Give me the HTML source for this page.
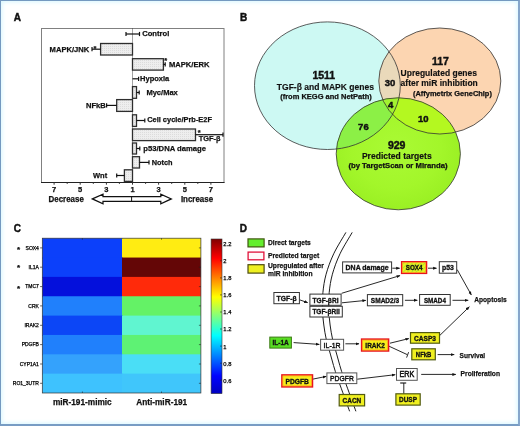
<!DOCTYPE html>
<html lang="en">
<head>
<meta charset="utf-8">
<title>Figure</title>
<style>
html,body{margin:0;padding:0;background:#fff;}
body{width:520px;height:426px;overflow:hidden;position:relative;font-family:"Liberation Sans",sans-serif;}
#frame{position:absolute;left:0;top:0;width:517px;height:423px;border:1px solid #7499c0;border-right:2px solid #86a6cb;border-bottom:2px solid #789cc4;box-shadow:inset 0 0 4px 1px #d6f6ff;background:#fff;}
svg{position:absolute;left:0;top:0;}
svg text{font-family:"Liberation Sans",sans-serif;}
</style>
</head>
<body>
<div id="frame"></div>
<svg width="520" height="426" viewBox="0 0 520 426">
<defs>
<pattern id="dots" width="2" height="2" patternUnits="userSpaceOnUse"><rect width="2" height="2" fill="#eeeeee"/><rect width="1" height="1" fill="#dcdcdc"/></pattern>
<radialGradient id="gg" cx="0.48" cy="0.45" r="0.6"><stop offset="0" stop-color="#aafa34"/><stop offset="0.6" stop-color="#a3f62a"/><stop offset="1" stop-color="#98ee22"/></radialGradient>
<linearGradient id="jet" x1="0" y1="0" x2="0" y2="1">
<stop offset="0" stop-color="#800000"/>
<stop offset="0.125" stop-color="#ff0000"/>
<stop offset="0.375" stop-color="#ffff00"/>
<stop offset="0.625" stop-color="#00ffff"/>
<stop offset="0.885" stop-color="#0004ff"/>
<stop offset="1" stop-color="#0000c0"/>
</linearGradient>
<pattern id="hatch" width="3" height="3" patternUnits="userSpaceOnUse" patternTransform="rotate(45)"><rect width="3" height="3" fill="#f0f020"/><rect width="1.1" height="3" fill="#b2e62a"/></pattern>
<marker id="ah" markerWidth="5" markerHeight="5" refX="3.4" refY="2" orient="auto" markerUnits="userSpaceOnUse"><path d="M0,0.5 L3.8,2 L0,3.5 Z" fill="#111"/></marker>
<clipPath id="cB"><ellipse cx="327.4" cy="85.7" rx="72.9" ry="63.8"/></clipPath>
<clipPath id="cO"><ellipse cx="439.8" cy="81" rx="61" ry="53"/></clipPath>
<clipPath id="cG"><ellipse cx="398.3" cy="153.8" rx="62.1" ry="56"/></clipPath>
</defs>

<text x="13.7" y="20.8" font-size="10" font-weight="bold" fill="#111" stroke="#111" stroke-width="0.45">A</text>
<text x="239.9" y="20.8" font-size="10" font-weight="bold" fill="#111" stroke="#111" stroke-width="0.45">B</text>
<text x="13.7" y="232.3" font-size="10" font-weight="bold" fill="#111" stroke="#111" stroke-width="0.45">C</text>
<text x="239.7" y="232.2" font-size="10" font-weight="bold" fill="#111" stroke="#111" stroke-width="0.45">D</text>
<g id="panelA">
<rect x="41.5" y="28.5" width="182.5" height="154" fill="#fff" stroke="#808080" stroke-width="1"/>
<line x1="41" y1="182.5" x2="224.5" y2="182.5" stroke="#222" stroke-width="1"/>
<line x1="132.5" y1="28.5" x2="132.5" y2="182.5" stroke="#444" stroke-width="1" stroke-dasharray="1,1"/>
<rect x="100.6" y="43.5" width="31.9" height="11.5" fill="url(#dots)" stroke="#2e2e2e" stroke-width="1.3"/>
<rect x="132.5" y="58.7" width="30.9" height="11.4" fill="url(#dots)" stroke="#2e2e2e" stroke-width="1.3"/>
<rect x="132.5" y="86.6" width="4.0" height="11.7" fill="url(#dots)" stroke="#2e2e2e" stroke-width="1.3"/>
<rect x="116.7" y="99.6" width="15.8" height="11.8" fill="url(#dots)" stroke="#2e2e2e" stroke-width="1.3"/>
<rect x="132.5" y="114.8" width="4.0" height="11.6" fill="url(#dots)" stroke="#2e2e2e" stroke-width="1.3"/>
<rect x="132.5" y="129.0" width="63.0" height="11.6" fill="url(#dots)" stroke="#2e2e2e" stroke-width="1.3"/>
<rect x="132.5" y="143.0" width="4.0" height="11.0" fill="url(#dots)" stroke="#2e2e2e" stroke-width="1.3"/>
<rect x="132.5" y="156.7" width="7.0" height="11.3" fill="url(#dots)" stroke="#2e2e2e" stroke-width="1.3"/>
<rect x="124.4" y="169.8" width="8.1" height="11.6" fill="url(#dots)" stroke="#2e2e2e" stroke-width="1.3"/>
<line x1="126" y1="34" x2="139.5" y2="34" stroke="#111" stroke-width="1.2"/>
<line x1="126" y1="31.9" x2="126" y2="36.1" stroke="#111" stroke-width="1.2"/>
<line x1="139.5" y1="31.9" x2="139.5" y2="36.1" stroke="#111" stroke-width="1.2"/>
<line x1="92" y1="49.2" x2="100.6" y2="49.2" stroke="#111" stroke-width="1.2"/>
<line x1="92" y1="47.1" x2="92" y2="51.300000000000004" stroke="#111" stroke-width="1.2"/>
<line x1="163.4" y1="64.4" x2="165.2" y2="64.4" stroke="#111" stroke-width="1.2"/>
<line x1="165.2" y1="62.300000000000004" x2="165.2" y2="66.5" stroke="#111" stroke-width="1.2"/>
<line x1="132.5" y1="78.8" x2="138.6" y2="78.8" stroke="#111" stroke-width="1.2"/>
<line x1="138.6" y1="76.7" x2="138.6" y2="80.89999999999999" stroke="#111" stroke-width="1.2"/>
<line x1="136.5" y1="92.5" x2="139.2" y2="92.5" stroke="#111" stroke-width="1.2"/>
<line x1="139.2" y1="90.4" x2="139.2" y2="94.6" stroke="#111" stroke-width="1.2"/>
<line x1="106.6" y1="105.4" x2="116.7" y2="105.4" stroke="#111" stroke-width="1.2"/>
<line x1="106.6" y1="103.30000000000001" x2="106.6" y2="107.5" stroke="#111" stroke-width="1.2"/>
<line x1="136.5" y1="120.5" x2="144.8" y2="120.5" stroke="#111" stroke-width="1.2"/>
<line x1="144.8" y1="118.4" x2="144.8" y2="122.6" stroke="#111" stroke-width="1.2"/>
<line x1="195.5" y1="134.7" x2="223" y2="134.7" stroke="#111" stroke-width="1.2"/>
<line x1="223" y1="132.6" x2="223" y2="136.79999999999998" stroke="#111" stroke-width="1.2"/>
<line x1="136.5" y1="148.5" x2="139.8" y2="148.5" stroke="#111" stroke-width="1.2"/>
<line x1="139.8" y1="146.4" x2="139.8" y2="150.6" stroke="#111" stroke-width="1.2"/>
<line x1="139.5" y1="162.4" x2="149" y2="162.4" stroke="#111" stroke-width="1.2"/>
<line x1="149" y1="160.3" x2="149" y2="164.5" stroke="#111" stroke-width="1.2"/>
<line x1="116.7" y1="175.5" x2="124.4" y2="175.5" stroke="#111" stroke-width="1.2"/>
<line x1="116.7" y1="173.4" x2="116.7" y2="177.6" stroke="#111" stroke-width="1.2"/>
<text x="142.2" y="35.9" font-size="8" font-weight="bold" textLength="27.1" lengthAdjust="spacingAndGlyphs" fill="#111" stroke="#111" stroke-width="0.25">Control</text>
<text x="49.6" y="51.5" font-size="8" font-weight="bold" textLength="39.6" lengthAdjust="spacingAndGlyphs" fill="#111" stroke="#111" stroke-width="0.25">MAPK/JNK</text>
<text x="169" y="67.4" font-size="8" font-weight="bold" textLength="40.5" lengthAdjust="spacingAndGlyphs" fill="#111" stroke="#111" stroke-width="0.25">MAPK/ERK</text>
<text x="140.1" y="81.3" font-size="8" font-weight="bold" textLength="29.2" lengthAdjust="spacingAndGlyphs" fill="#111" stroke="#111" stroke-width="0.25">Hypoxia</text>
<text x="146.4" y="95.0" font-size="8" font-weight="bold" textLength="31.4" lengthAdjust="spacingAndGlyphs" fill="#111" stroke="#111" stroke-width="0.25">Myc/Max</text>
<text x="86" y="107.6" font-size="8" font-weight="bold" textLength="19.7" lengthAdjust="spacingAndGlyphs" fill="#111" stroke="#111" stroke-width="0.25">NFkB</text>
<text x="147.2" y="121.9" font-size="8" font-weight="bold" textLength="64.8" lengthAdjust="spacingAndGlyphs" fill="#111" stroke="#111" stroke-width="0.25">Cell cycle/Prb-E2F</text>
<text x="198.7" y="140.8" font-size="8" font-weight="bold" textLength="21.8" lengthAdjust="spacingAndGlyphs" fill="#111" stroke="#111" stroke-width="0.25">TGF-β</text>
<text x="143.3" y="151.3" font-size="8" font-weight="bold" textLength="62.7" lengthAdjust="spacingAndGlyphs" fill="#111" stroke="#111" stroke-width="0.25">p53/DNA damage</text>
<text x="151.7" y="165.2" font-size="8" font-weight="bold" textLength="20.8" lengthAdjust="spacingAndGlyphs" fill="#111" stroke="#111" stroke-width="0.25">Notch</text>
<text x="93" y="177.6" font-size="8" font-weight="bold" textLength="14.2" lengthAdjust="spacingAndGlyphs" fill="#111" stroke="#111" stroke-width="0.25">Wnt</text>
<text x="94.9" y="51.2" font-size="7.5" font-weight="bold" text-anchor="middle" fill="#111" stroke="#111" stroke-width="0.25">*</text>
<text x="165.8" y="63.2" font-size="7.5" font-weight="bold" text-anchor="middle" fill="#111" stroke="#111" stroke-width="0.25">*</text>
<text x="199.3" y="135.4" font-size="7.5" font-weight="bold" text-anchor="middle" fill="#111" stroke="#111" stroke-width="0.25">*</text>
<line x1="54.1" y1="182.5" x2="54.1" y2="184.7" stroke="#333" stroke-width="1"/>
<text x="54.1" y="192.2" font-size="7.5" font-weight="bold" text-anchor="middle" fill="#111" stroke="#111" stroke-width="0.25">7</text>
<line x1="67.2" y1="182.5" x2="67.2" y2="183.9" stroke="#333" stroke-width="1"/>
<line x1="80.2" y1="182.5" x2="80.2" y2="184.7" stroke="#333" stroke-width="1"/>
<text x="80.2" y="192.2" font-size="7.5" font-weight="bold" text-anchor="middle" fill="#111" stroke="#111" stroke-width="0.25">5</text>
<line x1="93.3" y1="182.5" x2="93.3" y2="183.9" stroke="#333" stroke-width="1"/>
<line x1="106.4" y1="182.5" x2="106.4" y2="184.7" stroke="#333" stroke-width="1"/>
<text x="106.4" y="192.2" font-size="7.5" font-weight="bold" text-anchor="middle" fill="#111" stroke="#111" stroke-width="0.25">3</text>
<line x1="119.4" y1="182.5" x2="119.4" y2="183.9" stroke="#333" stroke-width="1"/>
<line x1="132.5" y1="182.5" x2="132.5" y2="184.7" stroke="#333" stroke-width="1"/>
<text x="132.5" y="192.2" font-size="7.5" font-weight="bold" text-anchor="middle" fill="#111" stroke="#111" stroke-width="0.25">1</text>
<line x1="145.6" y1="182.5" x2="145.6" y2="183.9" stroke="#333" stroke-width="1"/>
<line x1="158.6" y1="182.5" x2="158.6" y2="184.7" stroke="#333" stroke-width="1"/>
<text x="158.6" y="192.2" font-size="7.5" font-weight="bold" text-anchor="middle" fill="#111" stroke="#111" stroke-width="0.25">3</text>
<line x1="171.7" y1="182.5" x2="171.7" y2="183.9" stroke="#333" stroke-width="1"/>
<line x1="184.8" y1="182.5" x2="184.8" y2="184.7" stroke="#333" stroke-width="1"/>
<text x="184.8" y="192.2" font-size="7.5" font-weight="bold" text-anchor="middle" fill="#111" stroke="#111" stroke-width="0.25">5</text>
<line x1="197.8" y1="182.5" x2="197.8" y2="183.9" stroke="#333" stroke-width="1"/>
<line x1="210.9" y1="182.5" x2="210.9" y2="184.7" stroke="#333" stroke-width="1"/>
<text x="210.9" y="192.2" font-size="7.5" font-weight="bold" text-anchor="middle" fill="#111" stroke="#111" stroke-width="0.25">7</text>
<text x="48.6" y="201.6" font-size="8.6" font-weight="bold" textLength="35.2" lengthAdjust="spacingAndGlyphs" fill="#111" stroke="#111" stroke-width="0.25">Decrease</text>
<text x="180.9" y="201.6" font-size="8.6" font-weight="bold" textLength="32.2" lengthAdjust="spacingAndGlyphs" fill="#111" stroke="#111" stroke-width="0.25">Increase</text>
<path d="M92.4,198.9 L103,194.2 L103,196.7 L160.8,196.7 L160.8,194.2 L171.3,198.9 L160.8,203.7 L160.8,201.3 L103,201.3 L103,203.7 Z" fill="#fff" stroke="#111" stroke-width="1.25" stroke-linejoin="miter"/>
<line x1="131.6" y1="196.7" x2="131.6" y2="201.3" stroke="#111" stroke-width="1"/>
</g>
<g id="panelB">
<ellipse cx="327.4" cy="85.7" rx="72.9" ry="63.8" fill="#cdf9f3"/>
<ellipse cx="439.8" cy="81" rx="61" ry="53" fill="#fcd5b1"/>
<ellipse cx="439.8" cy="81" rx="61" ry="53" fill="#ead9ba" clip-path="url(#cB)"/>
<ellipse cx="398.3" cy="153.8" rx="62.1" ry="56" fill="url(#gg)"/>
<g clip-path="url(#cB)"><ellipse cx="398.3" cy="153.8" rx="62.1" ry="56" fill="#8cf046"/></g>
<g clip-path="url(#cO)"><ellipse cx="398.3" cy="153.8" rx="62.1" ry="56" fill="#b4f820"/></g>
<g clip-path="url(#cO)"><g clip-path="url(#cB)"><ellipse cx="398.3" cy="153.8" rx="62.1" ry="56" fill="#a2f230"/></g></g>
<ellipse cx="327.4" cy="85.7" rx="72.9" ry="63.8" fill="none" stroke="#333" stroke-width="0.8"/>
<ellipse cx="439.8" cy="81" rx="61" ry="53" fill="none" stroke="#333" stroke-width="0.8"/>
<ellipse cx="398.3" cy="153.8" rx="62.1" ry="56" fill="none" stroke="#333" stroke-width="0.8"/>
<text x="323.8" y="79.3" font-size="10.5" font-weight="bold" text-anchor="middle" fill="#111" stroke="#111" stroke-width="0.45">1511</text>
<text x="276.8" y="90" font-size="8.3" font-weight="bold" textLength="97.2" lengthAdjust="spacingAndGlyphs" fill="#111" stroke="#111" stroke-width="0.15">TGF-β and MAPK genes</text>
<text x="280.2" y="98.6" font-size="7" font-weight="bold" textLength="91.6" lengthAdjust="spacingAndGlyphs" fill="#111" stroke="#111" stroke-width="0.25">(from KEGG and NetPath)</text>
<text x="440.4" y="64.7" font-size="10.5" font-weight="bold" text-anchor="middle" fill="#111" stroke="#111" stroke-width="0.45">117</text>
<text x="400.6" y="75.9" font-size="8.3" font-weight="bold" textLength="76.4" lengthAdjust="spacingAndGlyphs" fill="#111" stroke="#111" stroke-width="0.15">Upregulated genes</text>
<text x="400.6" y="86" font-size="8.3" font-weight="bold" textLength="77.2" lengthAdjust="spacingAndGlyphs" fill="#111" stroke="#111" stroke-width="0.15">after miR inhibition</text>
<text x="413" y="95.5" font-size="7" font-weight="bold" textLength="78.9" lengthAdjust="spacingAndGlyphs" fill="#111" stroke="#111" stroke-width="0.25">(Affymetrix GeneChip)</text>
<text x="390.1" y="85.5" font-size="9.5" font-weight="bold" text-anchor="middle" fill="#111" stroke="#111" stroke-width="0.45">30</text>
<text x="390.7" y="108.3" font-size="9.5" font-weight="bold" text-anchor="middle" fill="#111" stroke="#111" stroke-width="0.45">4</text>
<text x="423.2" y="121.6" font-size="9.5" font-weight="bold" text-anchor="middle" fill="#111" stroke="#111" stroke-width="0.45">10</text>
<text x="363.4" y="130.2" font-size="9.5" font-weight="bold" text-anchor="middle" fill="#111" stroke="#111" stroke-width="0.45">76</text>
<text x="396.7" y="148.9" font-size="10.5" font-weight="bold" text-anchor="middle" fill="#111" stroke="#111" stroke-width="0.45">929</text>
<text x="361.9" y="158.7" font-size="8.3" font-weight="bold" textLength="69.8" lengthAdjust="spacingAndGlyphs" fill="#111" stroke="#111" stroke-width="0.15">Predicted targets</text>
<text x="348.4" y="168.1" font-size="7" font-weight="bold" textLength="99.2" lengthAdjust="spacingAndGlyphs" fill="#111" stroke="#111" stroke-width="0.25">(by TargetScan or  Miranda)</text>
</g>
<g id="panelC">
<rect x="42.3" y="238.20" width="80.7" height="20.35" fill="#0c40fa"/>
<rect x="122.0" y="238.20" width="78.9" height="20.35" fill="#ffec12"/>
<rect x="42.3" y="257.55" width="80.7" height="20.35" fill="#0c40fa"/>
<rect x="122.0" y="257.55" width="78.9" height="20.35" fill="#640606"/>
<rect x="42.3" y="276.90" width="80.7" height="20.35" fill="#0410dc"/>
<rect x="122.0" y="276.90" width="78.9" height="20.35" fill="#ff2a0a"/>
<rect x="42.3" y="296.25" width="80.7" height="20.35" fill="#2080fc"/>
<rect x="122.0" y="296.25" width="78.9" height="20.35" fill="#64f266"/>
<rect x="42.3" y="315.60" width="80.7" height="20.35" fill="#0c46f6"/>
<rect x="122.0" y="315.60" width="78.9" height="20.35" fill="#60f5d0"/>
<rect x="42.3" y="334.95" width="80.7" height="20.35" fill="#2080fc"/>
<rect x="122.0" y="334.95" width="78.9" height="20.35" fill="#5ef274"/>
<rect x="42.3" y="354.30" width="80.7" height="20.35" fill="#34a2fc"/>
<rect x="122.0" y="354.30" width="78.9" height="20.35" fill="#4adef6"/>
<rect x="42.3" y="373.65" width="80.7" height="19.35" fill="#3ec2fe"/>
<rect x="122.0" y="373.65" width="78.9" height="19.35" fill="#40c6fb"/>
<rect x="42.3" y="238.2" width="158.6" height="154.8" fill="none" stroke="#333" stroke-width="0.7"/>
<line x1="40.099999999999994" y1="247.9" x2="42.3" y2="247.9" stroke="#222" stroke-width="0.7"/>
<line x1="198.9" y1="247.9" x2="200.9" y2="247.9" stroke="#222" stroke-width="0.6"/>
<text x="38.9" y="249.7" font-size="5" text-anchor="end" fill="#000" stroke="#000" stroke-width="0.25">SOX4</text>
<line x1="40.099999999999994" y1="267.2" x2="42.3" y2="267.2" stroke="#222" stroke-width="0.7"/>
<line x1="198.9" y1="267.2" x2="200.9" y2="267.2" stroke="#222" stroke-width="0.6"/>
<text x="38.9" y="269.0" font-size="5" text-anchor="end" fill="#000" stroke="#000" stroke-width="0.25">IL1A</text>
<line x1="40.099999999999994" y1="286.6" x2="42.3" y2="286.6" stroke="#222" stroke-width="0.7"/>
<line x1="198.9" y1="286.6" x2="200.9" y2="286.6" stroke="#222" stroke-width="0.6"/>
<text x="38.9" y="288.4" font-size="5" text-anchor="end" fill="#000" stroke="#000" stroke-width="0.25">TMC7</text>
<line x1="40.099999999999994" y1="305.9" x2="42.3" y2="305.9" stroke="#222" stroke-width="0.7"/>
<line x1="198.9" y1="305.9" x2="200.9" y2="305.9" stroke="#222" stroke-width="0.6"/>
<text x="38.9" y="307.7" font-size="5" text-anchor="end" fill="#000" stroke="#000" stroke-width="0.25">CRK</text>
<line x1="40.099999999999994" y1="325.3" x2="42.3" y2="325.3" stroke="#222" stroke-width="0.7"/>
<line x1="198.9" y1="325.3" x2="200.9" y2="325.3" stroke="#222" stroke-width="0.6"/>
<text x="38.9" y="327.1" font-size="5" text-anchor="end" fill="#000" stroke="#000" stroke-width="0.25">IRAK2</text>
<line x1="40.099999999999994" y1="344.6" x2="42.3" y2="344.6" stroke="#222" stroke-width="0.7"/>
<line x1="198.9" y1="344.6" x2="200.9" y2="344.6" stroke="#222" stroke-width="0.6"/>
<text x="38.9" y="346.4" font-size="5" text-anchor="end" fill="#000" stroke="#000" stroke-width="0.25">PDGFB</text>
<line x1="40.099999999999994" y1="364.0" x2="42.3" y2="364.0" stroke="#222" stroke-width="0.7"/>
<line x1="198.9" y1="364.0" x2="200.9" y2="364.0" stroke="#222" stroke-width="0.6"/>
<text x="38.9" y="365.8" font-size="5" text-anchor="end" fill="#000" stroke="#000" stroke-width="0.25">CYP1A1</text>
<line x1="40.099999999999994" y1="383.3" x2="42.3" y2="383.3" stroke="#222" stroke-width="0.7"/>
<line x1="198.9" y1="383.3" x2="200.9" y2="383.3" stroke="#222" stroke-width="0.6"/>
<text x="38.9" y="385.1" font-size="5" text-anchor="end" fill="#000" stroke="#000" stroke-width="0.25">RO1_3UTR</text>
<line x1="82.4" y1="238.2" x2="82.4" y2="239.7" stroke="#222" stroke-width="0.6"/>
<line x1="82.4" y1="393.0" x2="82.4" y2="391.5" stroke="#222" stroke-width="0.6"/>
<line x1="161.5" y1="238.2" x2="161.5" y2="239.7" stroke="#222" stroke-width="0.6"/>
<line x1="161.5" y1="393.0" x2="161.5" y2="391.5" stroke="#222" stroke-width="0.6"/>
<text x="18.5" y="252.4" font-size="8" font-weight="bold" text-anchor="middle" fill="#111" stroke="#111" stroke-width="0.25">*</text>
<text x="18.5" y="269.59999999999997" font-size="8" font-weight="bold" text-anchor="middle" fill="#111" stroke="#111" stroke-width="0.25">*</text>
<text x="18.5" y="291.09999999999997" font-size="8" font-weight="bold" text-anchor="middle" fill="#111" stroke="#111" stroke-width="0.25">*</text>
<text x="52.9" y="404.8" font-size="8.5" font-weight="bold" textLength="58.8" lengthAdjust="spacingAndGlyphs" fill="#111" stroke="#111" stroke-width="0.25">miR-191-mimic</text>
<text x="136.2" y="404.8" font-size="8.5" font-weight="bold" textLength="51" lengthAdjust="spacingAndGlyphs" fill="#111" stroke="#111" stroke-width="0.25">Anti-miR-191</text>
<rect x="211.1" y="239" width="10.9" height="154.6" fill="url(#jet)" stroke="#333" stroke-width="0.6"/>
<line x1="220" y1="243.7" x2="221.9" y2="243.7" stroke="#222" stroke-width="0.6"/>
<text x="223.3" y="246.1" font-size="5.8" fill="#000" stroke="#000" stroke-width="0.25">2.2</text>
<line x1="220" y1="260.8" x2="221.9" y2="260.8" stroke="#222" stroke-width="0.6"/>
<text x="223.3" y="263.2" font-size="5.8" fill="#000" stroke="#000" stroke-width="0.25">2</text>
<line x1="220" y1="277.9" x2="221.9" y2="277.9" stroke="#222" stroke-width="0.6"/>
<text x="223.3" y="280.3" font-size="5.8" fill="#000" stroke="#000" stroke-width="0.25">1.8</text>
<line x1="220" y1="294.9" x2="221.9" y2="294.9" stroke="#222" stroke-width="0.6"/>
<text x="223.3" y="297.3" font-size="5.8" fill="#000" stroke="#000" stroke-width="0.25">1.6</text>
<line x1="220" y1="312.0" x2="221.9" y2="312.0" stroke="#222" stroke-width="0.6"/>
<text x="223.3" y="314.4" font-size="5.8" fill="#000" stroke="#000" stroke-width="0.25">1.4</text>
<line x1="220" y1="329.0" x2="221.9" y2="329.0" stroke="#222" stroke-width="0.6"/>
<text x="223.3" y="331.4" font-size="5.8" fill="#000" stroke="#000" stroke-width="0.25">1.2</text>
<line x1="220" y1="346.1" x2="221.9" y2="346.1" stroke="#222" stroke-width="0.6"/>
<text x="223.3" y="348.5" font-size="5.8" fill="#000" stroke="#000" stroke-width="0.25">1</text>
<line x1="220" y1="363.2" x2="221.9" y2="363.2" stroke="#222" stroke-width="0.6"/>
<text x="223.3" y="365.6" font-size="5.8" fill="#000" stroke="#000" stroke-width="0.25">0.8</text>
<line x1="220" y1="380.2" x2="221.9" y2="380.2" stroke="#222" stroke-width="0.6"/>
<text x="223.3" y="382.6" font-size="5.8" fill="#000" stroke="#000" stroke-width="0.25">0.6</text>
</g>
<g id="panelD" stroke-linecap="butt">
<rect x="248" y="238.9" width="16.1" height="8" fill="#64ee2e" stroke="#40560f" stroke-width="1.2"/>
<rect x="248.1" y="252.1" width="15.8" height="7.7" fill="#fff8f8" stroke="#e0123a" stroke-width="1.3"/>
<rect x="248" y="264.7" width="16.1" height="8.4" fill="#eef020" stroke="#4c4c10" stroke-width="1.2"/>
<text x="268" y="245.4" font-size="7.6" font-weight="bold" textLength="42.8" lengthAdjust="spacingAndGlyphs" fill="#111" stroke="#111" stroke-width="0.25">Direct targets</text>
<text x="268" y="257.8" font-size="7.6" font-weight="bold" textLength="51.2" lengthAdjust="spacingAndGlyphs" fill="#111" stroke="#111" stroke-width="0.25">Predicted target</text>
<text x="268" y="268.3" font-size="7.6" font-weight="bold" textLength="55.8" lengthAdjust="spacingAndGlyphs" fill="#111" stroke="#111" stroke-width="0.25">Upregulated after</text>
<text x="268" y="276.1" font-size="7.6" font-weight="bold" textLength="44.5" lengthAdjust="spacingAndGlyphs" fill="#111" stroke="#111" stroke-width="0.25">miR inhibition</text>
<path d="M345.9,232.4 C343.9,236.0 337.0,246.8 333.7,253.8 C330.4,260.8 327.9,267.7 326.1,274.2 C324.3,280.7 323.5,286.6 322.9,292.6 C322.3,298.6 322.4,304.6 322.5,310.0 C322.6,315.4 323.2,320.2 323.8,325.0 C324.4,329.8 325.3,334.8 326.2,339.0 C327.1,343.2 328.2,346.5 329.2,350.0 C330.2,353.5 331.0,356.4 332.0,360.0 C333.0,363.6 334.0,367.4 335.4,371.7 C336.8,376.0 338.0,379.4 340.4,386.0 C342.8,392.6 348.1,407.1 349.6,411.3" fill="none" stroke="#1c1c1c" stroke-width="1"/>
<path d="M352.2,232.4 C350.2,236.0 343.3,246.8 340.0,253.8 C336.7,260.8 334.2,267.7 332.4,274.2 C330.6,280.7 329.8,286.6 329.2,292.6 C328.6,298.6 328.6,304.6 328.8,310.0 C329.0,315.4 329.5,320.2 330.1,325.0 C330.7,329.8 331.6,334.8 332.5,339.0 C333.4,343.2 334.5,346.5 335.5,350.0 C336.5,353.5 337.3,356.4 338.3,360.0 C339.3,363.6 340.3,367.4 341.7,371.7 C343.1,376.0 344.3,379.4 346.7,386.0 C349.1,392.6 354.4,407.1 355.9,411.3" fill="none" stroke="#1c1c1c" stroke-width="1"/>
<line x1="299.8" y1="299.9" x2="307.6" y2="302.6" stroke="#111" stroke-width="0.9" marker-end="url(#ah)"/>
<line x1="392.3" y1="268.2" x2="399.6" y2="268.2" stroke="#111" stroke-width="0.9" marker-end="url(#ah)"/>
<line x1="428" y1="268.2" x2="436.5" y2="268.2" stroke="#111" stroke-width="0.9" marker-end="url(#ah)"/>
<line x1="457.2" y1="269.6" x2="471.3" y2="294.9" stroke="#111" stroke-width="0.9" marker-end="url(#ah)"/>
<line x1="341.6" y1="293.3" x2="400" y2="275.6" stroke="#111" stroke-width="0.9" marker-end="url(#ah)"/>
<line x1="342" y1="302.8" x2="365.8" y2="300.4" stroke="#111" stroke-width="0.9" marker-end="url(#ah)"/>
<line x1="404.9" y1="300.3" x2="417.3" y2="300.3" stroke="#111" stroke-width="0.9" marker-end="url(#ah)"/>
<line x1="452.5" y1="300.3" x2="468.2" y2="300.3" stroke="#111" stroke-width="0.9" marker-end="url(#ah)"/>
<line x1="293.6" y1="342.6" x2="319.3" y2="344.4" stroke="#111" stroke-width="0.9" marker-end="url(#ah)"/>
<line x1="345.4" y1="343.8" x2="359" y2="343.8" stroke="#111" stroke-width="0.9" marker-end="url(#ah)"/>
<line x1="390" y1="343.2" x2="408.8" y2="338.6" stroke="#111" stroke-width="0.9" marker-end="url(#ah)"/>
<line x1="389" y1="346.2" x2="407.2" y2="354.6" stroke="#111" stroke-width="0.9"/>
<line x1="406.6" y1="357.6" x2="408.6" y2="352.2" stroke="#111" stroke-width="0.9"/>
<line x1="439.4" y1="335.8" x2="469.3" y2="306.8" stroke="#111" stroke-width="0.9" marker-end="url(#ah)"/>
<line x1="437.6" y1="354.6" x2="454.2" y2="354.6" stroke="#111" stroke-width="0.9" marker-end="url(#ah)"/>
<line x1="312.5" y1="379.2" x2="326.3" y2="376.4" stroke="#111" stroke-width="0.9" marker-end="url(#ah)"/>
<line x1="357.2" y1="379.2" x2="395.2" y2="374.7" stroke="#111" stroke-width="0.9" marker-end="url(#ah)"/>
<line x1="421.2" y1="374.4" x2="455.8" y2="374.4" stroke="#111" stroke-width="0.9" marker-end="url(#ah)"/>
<line x1="403.8" y1="393.8" x2="403.8" y2="383" stroke="#111" stroke-width="0.9"/>
<line x1="400.2" y1="383" x2="406.2" y2="383" stroke="#111" stroke-width="1.1"/>
<rect x="342.6" y="261.9" width="49.00" height="11.00" fill="#fff" stroke="#333" stroke-width="1.0"/>
<text x="367.1" y="270.1" font-size="7.9" font-weight="bold" text-anchor="middle" textLength="43" lengthAdjust="spacingAndGlyphs" fill="#111" stroke="#111" stroke-width="0.35">DNA damage</text>
<rect x="401.6" y="261.7" width="25.00" height="11.70" fill="url(#hatch)" stroke="#e8141e" stroke-width="1.4"/>
<rect x="402.60" y="262.70" width="23.00" height="9.70" fill="none" stroke="#ff9a20" stroke-width="0.7"/>
<text x="414.1" y="270.3" font-size="7.9" font-weight="bold" text-anchor="middle" textLength="16.8" lengthAdjust="spacingAndGlyphs" fill="#111" stroke="#111" stroke-width="0.35">SOX4</text>
<rect x="439.3" y="261.7" width="17.40" height="11.50" fill="#fff" stroke="#333" stroke-width="1.0"/>
<text x="448.0" y="270.2" font-size="7.9" font-weight="bold" text-anchor="middle" textLength="11.8" lengthAdjust="spacingAndGlyphs" fill="#111" stroke="#111" stroke-width="0.35">p53</text>
<rect x="273.9" y="292.5" width="25.50" height="11.20" fill="#fff" stroke="#333" stroke-width="1.0"/>
<text x="286.6" y="300.9" font-size="7.9" font-weight="bold" text-anchor="middle" textLength="20" lengthAdjust="spacingAndGlyphs" fill="#111" stroke="#111" stroke-width="0.35">TGF-β</text>
<rect x="309.9" y="294.1" width="31.20" height="11.20" fill="#fff" stroke="#333" stroke-width="1.0"/>
<text x="325.5" y="302.5" font-size="7.9" font-weight="bold" text-anchor="middle" textLength="26" lengthAdjust="spacingAndGlyphs" fill="#111" stroke="#111" stroke-width="0.35">TGF-βRI</text>
<rect x="309.9" y="306.3" width="32.40" height="10.70" fill="#fff" stroke="#333" stroke-width="1.0"/>
<text x="326.1" y="314.4" font-size="7.9" font-weight="bold" text-anchor="middle" textLength="27.4" lengthAdjust="spacingAndGlyphs" fill="#111" stroke="#111" stroke-width="0.35">TGF-βRII</text>
<rect x="367.4" y="294.6" width="35.30" height="11.20" fill="#fff" stroke="#333" stroke-width="1.0"/>
<text x="385.0" y="303.0" font-size="7.9" font-weight="bold" text-anchor="middle" textLength="28.4" lengthAdjust="spacingAndGlyphs" fill="#111" stroke="#111" stroke-width="0.35">SMAD2/3</text>
<rect x="419.6" y="294.5" width="30.60" height="10.80" fill="#fff" stroke="#333" stroke-width="1.0"/>
<text x="434.9" y="302.6" font-size="7.9" font-weight="bold" text-anchor="middle" textLength="22" lengthAdjust="spacingAndGlyphs" fill="#111" stroke="#111" stroke-width="0.35">SMAD4</text>
<rect x="269.8" y="337.1" width="21.60" height="11.00" fill="#58de22" stroke="#3c7a14" stroke-width="1.0"/>
<text x="280.6" y="345.4" font-size="7.9" font-weight="bold" text-anchor="middle" textLength="16.4" lengthAdjust="spacingAndGlyphs" fill="#111" stroke="#111" stroke-width="0.35">IL-1A</text>
<rect x="320.6" y="339.3" width="23.00" height="10.90" fill="#fff" stroke="#555" stroke-width="1.0"/>
<text x="332.1" y="347.5" font-size="7.9" text-anchor="middle" textLength="17" lengthAdjust="spacingAndGlyphs" fill="#111" stroke="#111" stroke-width="0.45">IL-1R</text>
<rect x="361.6" y="339.1" width="27.00" height="11.90" fill="#f6ee1c" stroke="#e8141e" stroke-width="1.5"/>
<rect x="362.60" y="340.10" width="25.00" height="9.90" fill="none" stroke="#ff9a20" stroke-width="0.7"/>
<text x="375.1" y="347.8" font-size="7.9" font-weight="bold" text-anchor="middle" textLength="19.5" lengthAdjust="spacingAndGlyphs" fill="#111" stroke="#111" stroke-width="0.35">IRAK2</text>
<rect x="410.5" y="332.6" width="29.00" height="10.60" fill="#f0f020" stroke="#525a12" stroke-width="1.2"/>
<text x="425.0" y="340.6" font-size="7.9" font-weight="bold" text-anchor="middle" textLength="22" lengthAdjust="spacingAndGlyphs" fill="#111" stroke="#111" stroke-width="0.35">CASP3</text>
<rect x="411.8" y="348.8" width="23.50" height="11.00" fill="#f0f020" stroke="#525a12" stroke-width="1.2"/>
<text x="423.6" y="357.1" font-size="7.9" font-weight="bold" text-anchor="middle" textLength="15.5" lengthAdjust="spacingAndGlyphs" fill="#111" stroke="#111" stroke-width="0.35">NFkB</text>
<rect x="281.9" y="374.9" width="30.60" height="12.00" fill="#f6ee1c" stroke="#e8141e" stroke-width="1.5"/>
<rect x="282.90" y="375.90" width="28.60" height="10.00" fill="none" stroke="#ff9a20" stroke-width="0.7"/>
<text x="297.2" y="383.6" font-size="7.9" font-weight="bold" text-anchor="middle" textLength="23.4" lengthAdjust="spacingAndGlyphs" fill="#111" stroke="#111" stroke-width="0.35">PDGFB</text>
<rect x="326.9" y="372.9" width="29.90" height="10.70" fill="#fff" stroke="#555" stroke-width="1.0"/>
<text x="341.9" y="381.0" font-size="7.9" text-anchor="middle" textLength="23.8" lengthAdjust="spacingAndGlyphs" fill="#111" stroke="#111" stroke-width="0.45">PDGFR</text>
<rect x="396.5" y="368.5" width="20.70" height="11.80" fill="#fff" stroke="#555" stroke-width="1.0"/>
<text x="406.9" y="377.2" font-size="8.2" text-anchor="middle" textLength="14.8" lengthAdjust="spacingAndGlyphs" fill="#111" stroke="#111" stroke-width="0.5">ERK</text>
<rect x="339.2" y="394.5" width="25.40" height="11.40" fill="#f0f020" stroke="#525a12" stroke-width="1.2"/>
<text x="351.9" y="402.9" font-size="7.9" font-weight="bold" text-anchor="middle" textLength="18.6" lengthAdjust="spacingAndGlyphs" fill="#111" stroke="#111" stroke-width="0.35">CACN</text>
<rect x="395.9" y="393.8" width="24.30" height="11.30" fill="#f0f020" stroke="#525a12" stroke-width="1.2"/>
<text x="408.0" y="402.2" font-size="7.9" font-weight="bold" text-anchor="middle" textLength="18" lengthAdjust="spacingAndGlyphs" fill="#111" stroke="#111" stroke-width="0.35">DUSP</text>
<text x="474.2" y="302.1" font-size="7.8" font-weight="bold" textLength="32.5" lengthAdjust="spacingAndGlyphs" fill="#111" stroke="#111" stroke-width="0.25">Apoptosis</text>
<text x="459.6" y="357.5" font-size="7.8" font-weight="bold" textLength="25.6" lengthAdjust="spacingAndGlyphs" fill="#111" stroke="#111" stroke-width="0.25">Survival</text>
<text x="460.6" y="376.3" font-size="7.8" font-weight="bold" textLength="39.4" lengthAdjust="spacingAndGlyphs" fill="#111" stroke="#111" stroke-width="0.25">Proliferation</text>
</g>
</svg>
</body>
</html>
